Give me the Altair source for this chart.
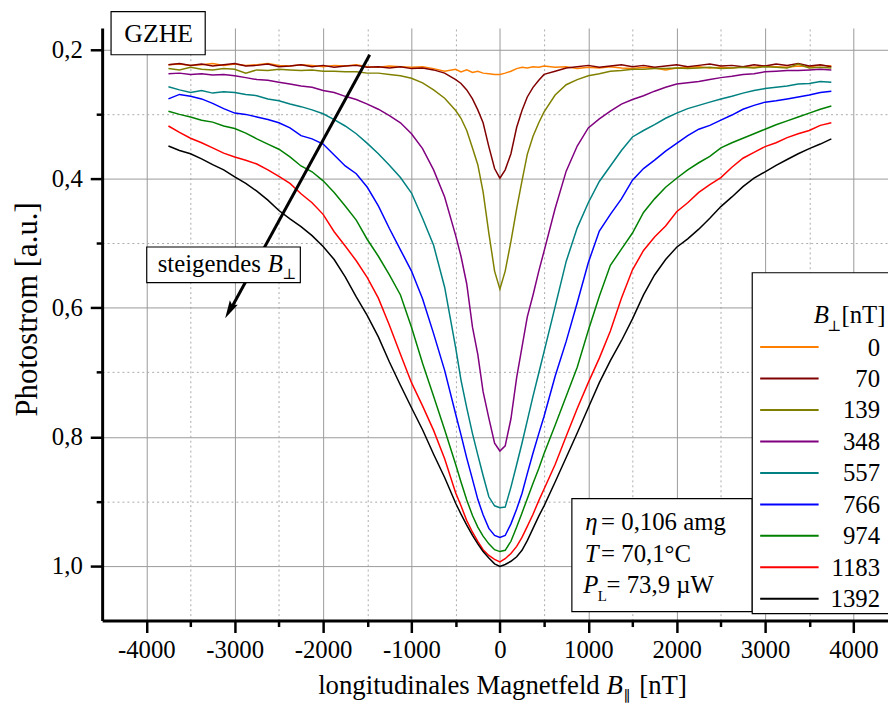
import altair as alt
import pandas as pd

# ---------------- data ----------------
B_par = [-3750, -3625, -3500, -3375, -3250, -3125, -3000, -2875, -2750, -2625, -2500, -2375,
         -2250, -2125, -2000, -1875, -1750, -1625, -1500, -1375, -1250, -1125, -1000, -875,
         -750, -625, -500, -440, -375, -310, -250, -190, -125, -60, 0, 60, 125, 190, 250, 310,
         375, 440, 500, 625, 750, 875, 1000, 1125, 1250, 1375, 1500, 1625, 1750, 1875, 2000,
         2125, 2250, 2375, 2500, 2625, 2750, 2875, 3000, 3125, 3250, 3375, 3500, 3625, 3750]

labels = ["0", "70", "139", "348", "557", "766", "974", "1183", "1392"]
colors = ["#ff8000", "#800000", "#808000", "#800080", "#008080", "#0000ff", "#008000", "#ff0000", "#000000"]

I_0 = [0.223, 0.222, 0.224, 0.223, 0.221, 0.224, 0.222, 0.224, 0.223, 0.221, 0.224, 0.225, 0.223, 0.224,
       0.226, 0.224, 0.225, 0.223, 0.226, 0.227, 0.225, 0.226, 0.227, 0.226, 0.229, 0.233, 0.230,
       0.234, 0.231, 0.235, 0.233, 0.236, 0.237, 0.238, 0.238, 0.236, 0.233, 0.229, 0.227, 0.228, 0.226, 0.227,
       0.225, 0.227, 0.226, 0.229, 0.227, 0.228, 0.226, 0.228, 0.229, 0.227, 0.228, 0.231, 0.228, 0.227,
       0.226, 0.228, 0.227, 0.228, 0.226, 0.227, 0.225, 0.226, 0.227, 0.225, 0.226, 0.224, 0.225]
I_70 = [0.223, 0.221, 0.224, 0.222, 0.225, 0.223, 0.221, 0.225, 0.224, 0.222, 0.226, 0.225, 0.223, 0.226,
        0.224, 0.227, 0.225, 0.224, 0.227, 0.226, 0.228, 0.226, 0.229, 0.228, 0.231, 0.236, 0.246,
        0.252, 0.262, 0.276, 0.293, 0.313, 0.350, 0.384, 0.399, 0.386, 0.361, 0.320, 0.294, 0.273, 0.258, 0.247,
        0.238, 0.233, 0.228, 0.226, 0.224, 0.227, 0.225, 0.223, 0.226, 0.224, 0.227, 0.225, 0.223, 0.226,
        0.224, 0.222, 0.225, 0.224, 0.226, 0.223, 0.225, 0.222, 0.224, 0.221, 0.225, 0.223, 0.226]
I_139 = [0.229, 0.231, 0.227, 0.230, 0.231, 0.229, 0.230, 0.236, 0.231, 0.232, 0.230, 0.231, 0.232, 0.231,
         0.233, 0.233, 0.234, 0.234, 0.236, 0.236, 0.238, 0.240, 0.244, 0.251, 0.262, 0.275, 0.294,
         0.306, 0.325, 0.352, 0.378, 0.420, 0.484, 0.543, 0.571, 0.543, 0.497, 0.446, 0.403, 0.362, 0.334, 0.313,
         0.296, 0.270, 0.254, 0.246, 0.240, 0.237, 0.233, 0.232, 0.230, 0.230, 0.229, 0.229, 0.228, 0.229,
         0.228, 0.227, 0.229, 0.228, 0.227, 0.228, 0.226, 0.227, 0.228, 0.222, 0.228, 0.227, 0.228]
I_348 = [0.237, 0.236, 0.238, 0.237, 0.239, 0.238, 0.240, 0.243, 0.246, 0.247, 0.250, 0.253, 0.256, 0.258,
         0.263, 0.266, 0.272, 0.277, 0.284, 0.292, 0.302, 0.313, 0.330, 0.353, 0.386, 0.428, 0.488,
         0.520, 0.563, 0.630, 0.672, 0.730, 0.771, 0.810, 0.822, 0.814, 0.772, 0.708, 0.661, 0.614, 0.580, 0.543,
         0.512, 0.446, 0.388, 0.349, 0.321, 0.307, 0.295, 0.284, 0.277, 0.271, 0.264, 0.258, 0.253, 0.251,
         0.249, 0.246, 0.243, 0.241, 0.238, 0.237, 0.234, 0.233, 0.232, 0.232, 0.231, 0.230, 0.231]
I_557 = [0.257, 0.262, 0.266, 0.263, 0.267, 0.265, 0.266, 0.269, 0.271, 0.276, 0.279, 0.284, 0.288, 0.293,
         0.299, 0.308, 0.318, 0.330, 0.345, 0.361, 0.379, 0.398, 0.422, 0.461, 0.503, 0.568, 0.662,
         0.712, 0.755, 0.795, 0.828, 0.860, 0.893, 0.907, 0.910, 0.909, 0.878, 0.843, 0.810, 0.775, 0.737, 0.701,
         0.668, 0.598, 0.528, 0.476, 0.437, 0.404, 0.380, 0.356, 0.335, 0.325, 0.316, 0.306, 0.298, 0.291,
         0.286, 0.281, 0.276, 0.272, 0.267, 0.263, 0.260, 0.258, 0.256, 0.253, 0.252, 0.249, 0.250]
I_766 = [0.276, 0.269, 0.272, 0.276, 0.283, 0.291, 0.298, 0.300, 0.304, 0.308, 0.313, 0.321, 0.333, 0.338,
         0.346, 0.363, 0.380, 0.392, 0.413, 0.442, 0.477, 0.510, 0.543, 0.586, 0.640, 0.697, 0.765,
         0.797, 0.833, 0.866, 0.897, 0.921, 0.942, 0.953, 0.956, 0.953, 0.935, 0.912, 0.888, 0.857, 0.825, 0.795,
         0.768, 0.706, 0.652, 0.592, 0.530, 0.481, 0.455, 0.431, 0.402, 0.384, 0.371, 0.357, 0.345, 0.333,
         0.323, 0.317, 0.309, 0.301, 0.292, 0.286, 0.281, 0.279, 0.276, 0.273, 0.270, 0.266, 0.264]
I_974 = [0.295, 0.300, 0.304, 0.309, 0.312, 0.318, 0.322, 0.329, 0.338, 0.346, 0.354, 0.366, 0.380, 0.389,
         0.403, 0.421, 0.442, 0.464, 0.494, 0.520, 0.549, 0.580, 0.630, 0.686, 0.737, 0.789, 0.843,
         0.870, 0.898, 0.922, 0.940, 0.954, 0.966, 0.975, 0.978, 0.976, 0.962, 0.940, 0.918, 0.896, 0.872, 0.849,
         0.826, 0.782, 0.737, 0.692, 0.635, 0.582, 0.534, 0.509, 0.484, 0.452, 0.431, 0.413, 0.399, 0.386,
         0.375, 0.365, 0.352, 0.344, 0.337, 0.330, 0.323, 0.316, 0.310, 0.304, 0.298, 0.292, 0.287]
I_1183 = [0.318, 0.328, 0.337, 0.344, 0.352, 0.360, 0.366, 0.371, 0.377, 0.386, 0.396, 0.407, 0.423, 0.437,
          0.455, 0.482, 0.504, 0.527, 0.553, 0.585, 0.627, 0.672, 0.716, 0.752, 0.790, 0.834, 0.887,
          0.907, 0.930, 0.948, 0.962, 0.975, 0.984, 0.990, 0.994, 0.989, 0.981, 0.970, 0.956, 0.939, 0.920, 0.899,
          0.881, 0.843, 0.799, 0.756, 0.716, 0.678, 0.636, 0.585, 0.541, 0.511, 0.490, 0.473, 0.451, 0.437,
          0.421, 0.409, 0.398, 0.382, 0.368, 0.359, 0.350, 0.344, 0.336, 0.330, 0.325, 0.317, 0.313]
I_1392 = [0.349, 0.356, 0.361, 0.369, 0.378, 0.386, 0.397, 0.407, 0.419, 0.433, 0.449, 0.462, 0.474, 0.488,
          0.505, 0.525, 0.552, 0.583, 0.612, 0.645, 0.684, 0.720, 0.755, 0.789, 0.827, 0.863, 0.903,
          0.920, 0.937, 0.953, 0.966, 0.978, 0.988, 0.997, 1.001, 0.998, 0.993, 0.986, 0.976, 0.961, 0.942, 0.923,
          0.907, 0.870, 0.832, 0.794, 0.755, 0.716, 0.682, 0.651, 0.617, 0.580, 0.549, 0.525, 0.506, 0.493,
          0.478, 0.461, 0.443, 0.428, 0.412, 0.399, 0.389, 0.379, 0.370, 0.361, 0.353, 0.346, 0.338]

series_vals = [I_0, I_70, I_139, I_348, I_557, I_766, I_974, I_1183, I_1392]

x_major = [-4000, -3000, -2000, -1000, 0, 1000, 2000, 3000, 4000]
x_minor = [-3500, -2500, -1500, -500, 500, 1500, 2500, 3500]
y_major = [0.2, 0.4, 0.6, 0.8, 1.0]
y_minor = [0.3, 0.5, 0.7, 0.9]

rows = []
for order, (lab, vals) in enumerate(zip(labels, series_vals)):
    for xv, yv in zip(B_par, vals):
        rows.append({"B": xv, "I": yv, "Bperp": lab, "o": order})
df = pd.DataFrame(rows)

# ---------------- styling ----------------
FONT = "Liberation Serif"
SYM = "DejaVu Serif"
W, H = 793, 598

x_scale = alt.Scale(domain=[-4500, 4391], nice=False, zero=False)
y_scale = alt.Scale(domain=[0.166, 1.085], reverse=True, nice=False, zero=False)

comma = "replace(format(datum.value, '.1f'), '.', ',')"

ax_x_major = alt.Axis(values=x_major, orient="bottom", title=None, grid=True, gridColor="#9a9a9a",
                      gridWidth=1, domain=True, domainColor="black", domainWidth=3, ticks=True,
                      tickColor="black", tickSize=12, tickWidth=2.5, labelFont=FONT, labelFontSize=25,
                      labelColor="black", labelPadding=5, labelFlush=False,
                      labelExpr="toString(datum.value)")
ax_x_minor = alt.Axis(values=x_minor, orient="bottom", title=None, grid=True, gridColor="#aaaaaa",
                      gridWidth=1, gridDash=[2, 3], domain=False, ticks=True, tickColor="black",
                      tickSize=6, tickWidth=2.5, labels=False)
ax_y_major = alt.Axis(values=y_major, orient="left", title=None, grid=True, gridColor="#9a9a9a",
                      gridWidth=1, domain=True, domainColor="black", domainWidth=3, ticks=True,
                      tickColor="black", tickSize=12, tickWidth=2.5, labelFont=FONT, labelFontSize=25,
                      labelColor="black", labelPadding=8, labelFlush=False, labelExpr=comma)
ax_y_minor = alt.Axis(values=y_minor, orient="left", title=None, grid=True, gridColor="#aaaaaa",
                      gridWidth=1, gridDash=[2, 3], domain=False, ticks=True, tickColor="black",
                      tickSize=6, tickWidth=2.5, labels=False)

minor_layer = alt.Chart(df).mark_line(opacity=0).encode(
    x=alt.X("B:Q", scale=x_scale, axis=ax_x_minor),
    y=alt.Y("I:Q", scale=y_scale, axis=ax_y_minor),
    detail="Bperp:N",
)

lines = alt.Chart(df).mark_line(strokeWidth=1.5).encode(
    x=alt.X("B:Q", scale=x_scale, axis=ax_x_major),
    y=alt.Y("I:Q", scale=y_scale, axis=ax_y_major),
    color=alt.Color("Bperp:N", scale=alt.Scale(domain=labels, range=colors), legend=None),
    order=alt.Order("B:Q"),
)

one = pd.DataFrame({"k": [0]})


def txt(s, x, y, size=25, style="normal", align="left", font=FONT, angle=0):
    return alt.Chart(one).mark_text(text=s, font=font, fontSize=size, fontStyle=style, align=align,
                                    baseline="alphabetic", color="black", angle=angle).encode(
        x=alt.value(x), y=alt.value(y))


def box(x1, y1, x2, y2):
    return alt.Chart(one).mark_rect(fill="white", stroke="black", strokeWidth=1.2).encode(
        x=alt.value(x1), x2=alt.value(x2), y=alt.value(y1), y2=alt.value(y2))


def seg(x1, y1, x2, y2, color="black", width=2):
    return alt.Chart(one).mark_rule(color=color, strokeWidth=width).encode(
        x=alt.value(x1), x2=alt.value(x2), y=alt.value(y1), y2=alt.value(y2))


layers = [minor_layer, lines]

# arrow "steigendes B_perp"
layers.append(seg(270, 27, 129, 285, width=3))
layers.append(alt.Chart(one).mark_point(shape="M0,-1 L0.5,1 L0,0.65 L-0.5,1 Z", filled=True, size=330,
                                        angle=208.7, color="black", opacity=1).encode(
    x=alt.value(128.5), y=alt.value(285)))
layers.append(box(45, 221, 200, 257))
layers.append(txt("steigendes", 56, 246.5))
layers.append(txt("B", 167, 246.5, style="italic"))
layers.append(txt("⊥", 182, 253, size=15, font=SYM))

# GZHE label
layers.append(box(9, -16.5, 104, 27))
layers.append(txt("GZHE", 57, 14, size=26, align="center"))

# parameter box
layers.append(box(474, 475, 656, 589))
layers.append(txt("η", 487.5, 506.5, style="italic"))
layers.append(txt("= 0,106 amg", 503.5, 506.5))
layers.append(txt("T", 487, 538.5, style="italic"))
layers.append(txt("= 70,1°C", 503.5, 538.5))
layers.append(txt("P", 485.5, 570, style="italic"))
layers.append(txt("L", 500, 578, size=15))
layers.append(txt("= 73,9 µW", 509, 570))

# legend
layers.append(box(656, 247, 810, 591))
layers.append(txt("B", 718, 298, style="italic"))
layers.append(txt("⊥", 732, 306, size=15, font=SYM))
layers.append(txt("[nT]", 746, 298))
for i, (lab, col) in enumerate(zip(labels, colors)):
    yy = 322 + i * 31.75
    layers.append(seg(664, yy, 723, yy, color=col, width=2))
    layers.append(txt(lab, 785, yy + 8.5, align="right"))

# axis titles
layers.append(txt("Photostrom [a.u.]", -66, 284, size=31, align="center", angle=270))
layers.append(txt("longitudinales Magnetfeld", 218, 672, size=27))
layers.append(txt("B", 509, 672, style="italic", size=27))
layers.append(txt("∥", 526, 679, size=15, font=SYM))
layers.append(txt("[nT]", 542, 672, size=27))

chart = alt.layer(*layers).resolve_axis(x="independent", y="independent").properties(
    width=W, height=H,
    padding={"left": 95, "top": 17, "right": 0, "bottom": 81},
    autosize=alt.AutoSizeParams(type="none"),
).configure_view(stroke=None)

chart.save("out.html", embed_options={"renderer": "svg", "actions": False})
